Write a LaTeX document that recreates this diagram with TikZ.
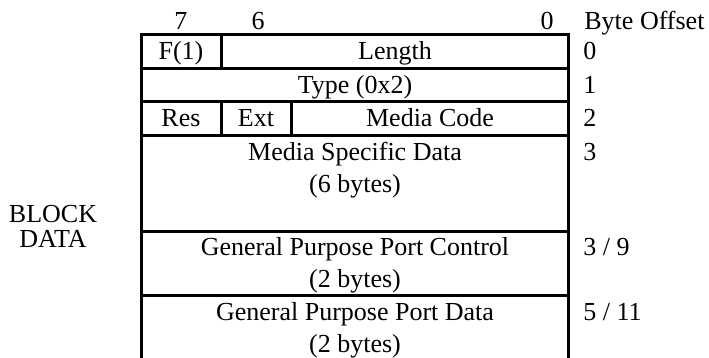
\documentclass[tikz,border=0pt]{standalone}
\usepackage{fontspec}
\setmainfont{Liberation Serif}
\begin{document}
\begin{tikzpicture}[
            x=0.5pt, y=-0.5pt,
            field/.style={anchor=base, inner sep=0pt, font=\fontsize{13}{16}\selectfont},
            offset/.style={field, anchor=base west},
            rule/.style={line width=1.5pt}
        ]
            \useasboundingbox (0,0) rectangle (709,358);

            % bit numbers and offset heading
            \node[field] (bit7) at (181, 30) {7};
            \node[field] (bit6) at (258, 30) {6};
            \node[field] (bit0) at (547, 30) {0};
            \node[offset] (head) at (584, 30) {Byte Offset};

            % frame of the block
            \draw[rule] (141,358) -- (141,35) -- (568,35) -- (568,358);
            \draw[rule] (141,69)--(568,69) (141,102)--(568,102) (141,136)--(568,136);
            \draw[rule] (141,232)--(568,232) (141,296)--(568,296);
            \draw[rule] (221,35)--(221,69) (221,102)--(221,136) (291,102)--(291,136);

            % fields
            \node[field] (flag)   at (181, 60) {F(1)};
            \node[field] (length) at (395, 60) {Length};
            \node[field] (type)   at (355, 94) {Type (0x2)};
            \node[field] (res)    at (181,127) {Res};
            \node[field] (ext)    at (256,127) {Ext};
            \node[field] (code)   at (430,127) {Media Code};
            \node[field] (msd)    at (355,161) {Media Specific Data};
            \node[field] (msdlen) at (355,193) {(6 bytes)};
            \node[field] (gpc)    at (355,256) {General Purpose Port Control};
            \node[field] (gpclen) at (355,288) {(2 bytes)};
            \node[field] (gpd)    at (355,321) {General Purpose Port Data};
            \node[field] (gpdlen) at (355,353) {(2 bytes)};

            % byte offsets
            \node[offset] (off0)  at (583, 60) {0};
            \node[offset] (off1)  at (583, 94) {1};
            \node[offset] (off2)  at (583,127) {2};
            \node[offset] (off3)  at (583,161) {3};
            \node[offset] (off9)  at (583,256) {3 / 9};
            \node[offset] (off11) at (583,321) {5 / 11};

            % side label
            \node[field] (block) at (53,223) {BLOCK};
            \node[field] (data)  at (53,248) {DATA};
        \end{tikzpicture}
\end{document}
